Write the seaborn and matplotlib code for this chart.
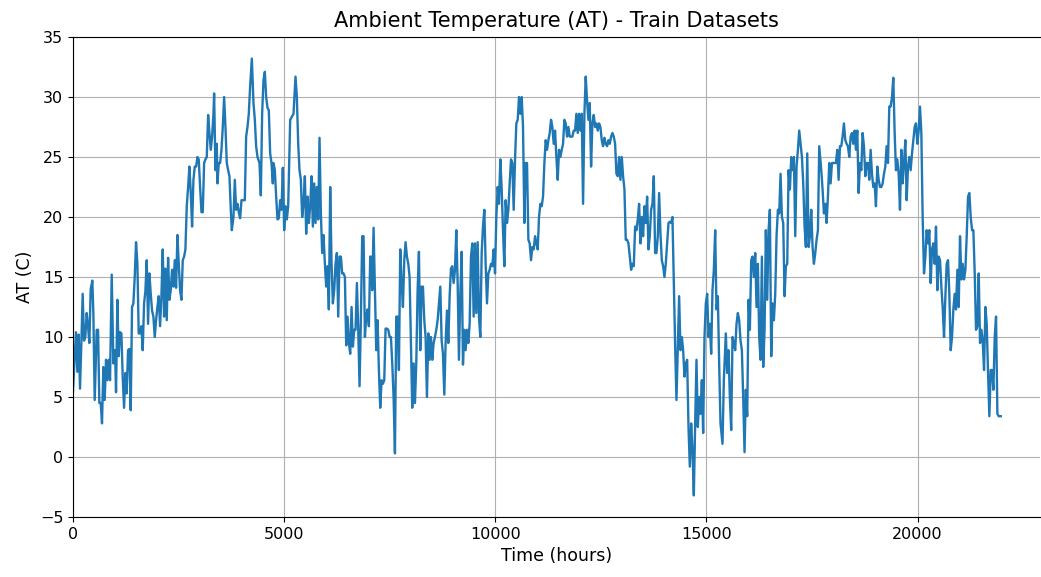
import matplotlib
matplotlib.use("Agg")
import matplotlib.pyplot as plt
import seaborn as sns
import pandas as pd

title = "Ambient Temperature (AT) - Train Datasets"
x_label = "Time (hours)"
y_label = "AT (C)"
x_ticks = [0, 5000, 10000, 15000, 20000]
y_ticks = [-5, 0, 5, 10, 15, 20, 25, 30, 35]

hours_1 = [0, 71, 103, 134, 166, 198, 229, 261, 292, 324, 356, 387, 419, 458, 482, 514, 561, 593, 624, 656,
           687, 719, 751, 782, 814, 845, 877, 917, 956, 996, 1019, 1051, 1082, 1114, 1146, 1177, 1209, 1240, 1272, 1304,
           1335, 1367, 1398, 1430, 1462, 1493, 1525, 1556, 1588, 1620, 1651, 1683, 1714, 1746, 1778, 1809, 1841, 1872, 1904, 1936,
           1967, 1999, 2030, 2062, 2094, 2125, 2157, 2188, 2220, 2252, 2283, 2315, 2346, 2378, 2410, 2441, 2473, 2504, 2536, 2568,
           2599, 2631, 2662, 2694, 2726, 2757, 2789, 2820, 2852, 2884, 2915, 2947, 2978, 3010, 3042, 3073, 3105, 3136, 3168, 3200,
           3231, 3263, 3294, 3326, 3342, 3373, 3405]
temps_1 = [5.5, 10.4, 7.1, 10.2, 5.7, 9.5, 13.6, 9.7, 10.0, 12.0, 10.9, 9.5, 14.0, 14.7, 12.0, 4.75, 10.6, 10.6, 4.5, 4.5,
           2.8, 7.5, 4.75, 8.1, 6.4, 8.1, 6.4, 15.2, 7.8, 8.9, 5.4, 13.1, 8.4, 10.4, 10.3, 6.7, 4.1, 7.0, 5.3, 8.9,
           9.0, 3.9, 12.5, 12.8, 15.0, 17.9, 16.1, 10.3, 10.3, 10.9, 8.9, 12.8, 13.8, 16.4, 11.1, 15.3, 13.6, 12.2, 11.7, 10.0,
           11.4, 12.5, 13.4, 10.9, 13.4, 17.3, 11.7, 15.7, 11.4, 16.6, 13.1, 13.9, 15.6, 14.2, 16.4, 14.1, 18.5, 16.1, 13.9, 13.1,
           16.4, 16.7, 17.3, 20.9, 22.5, 24.2, 22.0, 19.2, 23.1, 24.2, 24.2, 25.0, 24.8, 22.5, 20.4, 20.4, 24.5, 24.8, 25.0, 28.5,
           27.0, 25.6, 26.7, 28.6, 30.3, 23.9, 26.1]

hours_2 = [3421, 3452, 3484, 3516, 3547, 3579, 3610, 3642, 3674, 3705, 3737, 3761, 3800, 3832, 3863, 3895, 3926, 3958, 3990, 4021,
           4069, 4100, 4132, 4163, 4195, 4235, 4274, 4306, 4337, 4369, 4416, 4448, 4479, 4511, 4543, 4574, 4606, 4637, 4669, 4701,
           4732, 4748, 4780, 4811, 4843, 4874, 4906, 4938, 4969, 5001, 5032, 5064, 5096, 5143, 5190, 5222, 5269, 5301, 5333, 5364,
           5396, 5427, 5459, 5491, 5522, 5554, 5585, 5617, 5649, 5680, 5712, 5743, 5775, 5807, 5838, 5870, 5901, 5933, 5965, 5996,
           6028, 6059, 6091, 6123, 6154, 6186, 6217, 6249, 6281, 6312, 6344, 6375, 6407, 6439, 6470, 6502, 6533, 6565, 6597, 6628,
           6660, 6691, 6723, 6755, 6786, 6818, 6849, 6881, 6913, 6944, 6976, 7007, 7039]
temps_2 = [22.8, 24.5, 24.5, 25.6, 27.5, 30.0, 27.5, 24.5, 23.9, 23.4, 20.6, 18.9, 20.0, 23.1, 20.6, 21.1, 20.4, 19.9, 21.4, 21.4,
           21.4, 26.7, 27.5, 28.6, 30.9, 33.2, 29.5, 28.1, 25.9, 25.0, 24.5, 21.8, 28.6, 31.4, 32.1, 30.0, 29.1, 28.9, 25.3, 24.5,
           22.8, 24.5, 23.9, 21.7, 19.8, 19.9, 21.4, 20.6, 24.1, 18.9, 20.9, 19.8, 20.9, 28.1, 28.4, 28.6, 31.7, 30.0, 26.1, 23.9,
           23.1, 20.0, 21.1, 23.4, 18.6, 21.7, 19.5, 20.9, 23.4, 19.2, 22.8, 19.5, 22.5, 19.8, 26.6, 20.3, 17.0, 18.5, 16.1, 14.2,
           15.9, 12.3, 22.5, 16.1, 12.8, 13.9, 16.1, 17.0, 11.7, 16.7, 16.7, 15.3, 15.3, 15.0, 9.3, 11.7, 9.5, 8.6, 12.5, 9.2,
           10.6, 10.6, 14.5, 10.6, 5.9, 11.7, 18.4, 18.4, 10.0, 11.7, 12.3, 10.9, 16.7]

hours_3 = [7055, 7086, 7118, 7150, 7181, 7213, 7244, 7276, 7308, 7339, 7371, 7402, 7434, 7466, 7497, 7529, 7560, 7592, 7624, 7655,
           7687, 7718, 7750, 7782, 7813, 7845, 7876, 7908, 7940, 7971, 8003, 8034, 8066, 8098, 8129, 8161, 8192, 8224, 8256, 8287,
           8319, 8350, 8382, 8414, 8445, 8477, 8508, 8540, 8572, 8603, 8635, 8666, 8698, 8730, 8761, 8793, 8824, 8856, 8888, 8919,
           8951, 8982, 9014, 9046, 9077, 9109, 9140, 9172, 9204, 9235, 9267, 9298, 9330, 9362, 9393, 9425, 9456, 9488, 9520, 9551,
           9583, 9614, 9646, 9678, 9709, 9741, 9772, 9804, 9836, 9867, 9899, 9930, 9962, 9994, 10025, 10057, 10088, 10120, 10152, 10183,
           10215, 10246, 10278, 10310, 10341, 10373, 10404, 10436, 10468, 10499, 10531, 10562, 10594]
temps_3 = [16.7, 13.9, 19.1, 13.9, 8.9, 11.4, 7.25, 4.1, 6.4, 6.1, 6.4, 10.7, 10.7, 10.6, 10.0, 10.0, 7.8, 5.0, 0.3, 11.7,
           11.7, 7.25, 17.3, 14.5, 12.5, 16.4, 17.9, 16.7, 16.1, 15.0, 9.5, 4.1, 7.8, 4.5, 7.8, 13.9, 17.1, 8.9, 14.2, 14.2,
           11.4, 10.0, 5.0, 10.3, 8.1, 10.0, 8.1, 9.5, 10.0, 10.6, 11.4, 12.8, 14.2, 9.7, 8.6, 5.2, 9.5, 12.2, 9.5, 13.4,
           15.7, 15.9, 14.5, 15.6, 18.9, 14.5, 8.1, 13.6, 17.1, 7.7, 10.6, 8.9, 10.6, 9.5, 11.1, 16.7, 17.8, 11.7, 17.8, 12.0,
           17.9, 11.7, 10.0, 17.0, 19.2, 20.6, 16.1, 12.8, 15.3, 15.6, 16.1, 15.9, 17.3, 15.3, 20.0, 22.5, 21.1, 24.8, 22.3, 18.9,
           15.9, 21.4, 19.5, 20.6, 22.8, 24.8, 24.5, 20.6, 24.8, 27.8, 28.1, 30.0, 28.6]

hours_4 = [10626, 10657, 10689, 10720, 10752, 10784, 10815, 10847, 10878, 10910, 10942, 10973, 11005, 11036, 11068, 11100, 11131, 11163, 11194, 11226,
           11258, 11289, 11321, 11352, 11384, 11416, 11447, 11479, 11510, 11542, 11574, 11605, 11637, 11668, 11700, 11732, 11763, 11795, 11826, 11858,
           11890, 11921, 11953, 11984, 12016, 12048, 12079, 12111, 12142, 12174, 12206, 12237, 12269, 12300, 12332, 12364, 12395, 12427, 12458, 12490,
           12522, 12553, 12585, 12616, 12648, 12680, 12711, 12743, 12774, 12806, 12838, 12869, 12901, 12932, 12964, 12996, 13027, 13059, 13090, 13122,
           13154, 13185, 13217, 13248, 13280, 13312, 13343, 13375, 13406, 13438, 13470, 13501, 13533, 13564, 13596, 13628, 13659, 13691, 13722, 13754,
           13786, 13817, 13849, 13880, 13912, 13944, 13975, 14007, 14038, 14070, 14102, 14133]
temps_4 = [30.0, 27.5, 19.5, 24.5, 24.5, 18.1, 17.8, 16.4, 17.5, 17.3, 18.4, 17.8, 17.3, 20.0, 21.1, 20.9, 21.7, 24.5, 26.4, 25.6,
           26.4, 27.0, 28.1, 27.5, 26.1, 27.2, 25.0, 23.1, 25.6, 25.0, 25.6, 26.1, 28.1, 27.8, 26.7, 27.5, 26.7, 26.7, 26.7, 27.2,
           27.2, 28.6, 27.0, 28.6, 27.2, 28.6, 21.1, 28.6, 31.7, 29.7, 28.1, 29.5, 24.2, 27.8, 28.5, 27.5, 27.8, 27.2, 27.8, 27.5,
           26.4, 25.9, 26.6, 26.1, 25.9, 26.4, 26.1, 26.7, 27.0, 26.7, 26.1, 23.6, 23.4, 25.0, 23.1, 25.0, 23.4, 22.3, 18.1, 18.1,
           17.8, 16.7, 15.6, 16.1, 15.9, 19.2, 18.9, 19.8, 21.1, 17.8, 20.0, 18.4, 20.9, 19.5, 21.7, 17.3, 18.4, 20.6, 21.1, 23.4,
           17.0, 17.0, 18.4, 22.0, 18.6, 16.4, 15.9, 15.0, 16.1, 17.8, 19.5, 19.6]

hours_5 = [14165, 14196, 14228, 14260, 14291, 14323, 14354, 14386, 14418, 14449, 14481, 14512, 14544, 14576, 14607, 14639, 14670, 14702, 14734, 14765,
           14797, 14828, 14860, 14892, 14923, 14955, 14986, 15018, 15050, 15081, 15113, 15144, 15176, 15208, 15239, 15271, 15302, 15334, 15381, 15413,
           15460, 15492, 15524, 15555, 15587, 15618, 15650, 15682, 15713, 15745, 15776, 15808, 15840, 15871, 15903, 15934, 15966, 15998, 16029, 16061,
           16092, 16124, 16156, 16187, 16219, 16250, 16282, 16314, 16345, 16377, 16408, 16440, 16472, 16503, 16535, 16566, 16598, 16630, 16661, 16693,
           16724, 16756, 16788, 16819, 16851, 16882, 16914, 16946, 16977, 17009, 17040, 17072, 17104, 17135, 17167, 17198, 17230, 17262, 17293, 17325,
           17356, 17388, 17420, 17451, 17483, 17514, 17546, 17578, 17609, 17641, 17672]
temps_5 = [19.5, 20.0, 14.5, 9.2, 4.75, 9.2, 13.4, 8.9, 10.0, 8.9, 6.7, 7.8, 8.1, 2.5, -0.8, 2.8, 0.6, -3.2, 2.8, 8.1,
           2.5, 5.0, 3.6, 6.4, 2.0, 10.0, 12.8, 13.6, 10.0, 11.1, 8.6, 13.9, 15.6, 18.9, 12.3, 13.4, 7.8, 2.8, 1.1, 6.4,
           10.3, 7.0, 8.9, 5.0, 2.25, 10.0, 9.5, 8.9, 11.1, 12.0, 11.4, 9.7, 8.9, 5.0, 0.4, 5.6, 3.4, 13.1, 10.6, 16.4,
           16.7, 15.0, 17.0, 12.5, 16.1, 10.0, 8.1, 16.7, 7.5, 10.6, 18.9, 13.1, 18.9, 20.6, 8.4, 12.8, 11.4, 13.6, 18.4, 20.6,
           20.3, 23.6, 20.0, 19.5, 13.4, 15.9, 16.1, 23.9, 22.3, 25.0, 23.9, 25.0, 18.4, 24.2, 25.6, 27.2, 26.1, 25.0, 22.8, 19.2,
           17.5, 25.3, 17.5, 18.4, 20.6, 17.5, 16.1, 17.0, 18.1, 18.9, 25.9]

hours_6 = [17720, 17751, 17783, 17815, 17846, 17878, 17909, 17941, 17973, 18004, 18036, 18067, 18099, 18131, 18162, 18194, 18225, 18257, 18289, 18320,
           18352, 18383, 18415, 18447, 18478, 18510, 18541, 18573, 18605, 18636, 18668, 18699, 18731, 18763, 18794, 18826, 18857, 18889, 18921, 18952,
           18984, 19015, 19047, 19079, 19110, 19142, 19173, 19205, 19237, 19268, 19300, 19331, 19363, 19395, 19426, 19458, 19489, 19521, 19553, 19584,
           19616, 19647, 19679, 19711, 19742, 19774, 19805, 19837, 19869, 19900, 19932, 19963, 19995, 20027, 20058, 20090, 20121, 20153, 20185, 20216,
           20248, 20279, 20311, 20343, 20374, 20406, 20437, 20469, 20501, 20532, 20564, 20595, 20627, 20659, 20690, 20722, 20753, 20785, 20817, 20848,
           20880, 20911, 20943, 20975, 21006, 21038, 21069, 21101, 21133, 21164, 21196, 21227]
temps_6 = [23.9, 22.3, 20.3, 21.1, 19.5, 21.7, 24.5, 22.8, 24.5, 24.5, 24.5, 24.5, 25.6, 23.1, 25.9, 25.9, 26.7, 27.8, 26.4, 26.1,
           25.9, 25.0, 26.7, 27.0, 26.1, 27.2, 25.6, 27.2, 22.0, 24.5, 23.9, 27.0, 25.9, 23.4, 24.5, 24.5, 23.1, 25.6, 23.6, 22.5,
           22.8, 20.9, 24.2, 23.1, 22.5, 22.5, 22.8, 23.6, 24.2, 25.9, 24.5, 29.2, 29.2, 30.0, 31.6, 27.0, 23.9, 24.8, 23.6, 20.6,
           25.6, 22.8, 24.5, 26.4, 21.4, 24.2, 25.0, 23.9, 25.3, 26.4, 27.5, 27.8, 26.1, 27.2, 29.2, 27.0, 20.0, 15.3, 16.7, 18.9,
           17.8, 18.9, 14.5, 17.3, 17.8, 16.1, 19.2, 13.9, 16.7, 16.4, 14.2, 12.5, 10.0, 13.4, 16.1, 16.4, 13.6, 8.9, 10.0, 12.3,
           13.6, 12.3, 15.6, 12.5, 18.4, 14.8, 16.1, 14.8, 15.6, 18.4, 21.7, 22.0]

hours_7 = [21259, 21291, 21322, 21354, 21385, 21417, 21449, 21480, 21512, 21543, 21575, 21607, 21638, 21670, 21701, 21733, 21765, 21796, 21828, 21859,
           21891, 21922, 21970]
temps_7 = [20.0, 18.9, 18.9, 15.3, 10.6, 10.9, 15.3, 9.5, 10.6, 9.7, 7.25, 12.5, 11.1, 7.0, 3.4, 7.25, 7.25, 5.6, 10.0, 11.7,
           3.6, 3.4, 3.4]

hours = hours_1 + hours_2 + hours_3 + hours_4 + hours_5 + hours_6 + hours_7
temps = temps_1 + temps_2 + temps_3 + temps_4 + temps_5 + temps_6 + temps_7
df = pd.DataFrame({"hours": hours, "AT": temps})

W, H = 1041, 577
fig = plt.figure(figsize=(W / 100, H / 100), dpi=100)
ax = fig.add_axes([73 / W, 1 - 517 / H, (1040 - 73) / W, (517 - 37) / H])

sns.lineplot(data=df, x="hours", y="AT", ax=ax, color="#1f77b4", linewidth=1.7,
             sort=False, estimator=None)

ax.set_xlim(0, 22900)
ax.set_ylim(-5, 35)
ax.set_xticks(x_ticks)
ax.set_yticks(y_ticks)
ax.grid(True, color="#b0b0b0", linewidth=0.8)
ax.set_axisbelow(True)
ax.spines["right"].set_visible(False)
ax.set_title(title, fontsize=15, pad=7)
ax.set_xlabel(x_label, fontsize=12.5, labelpad=4)
ax.set_ylabel(y_label, fontsize=12.5, labelpad=4)
ax.tick_params(labelsize=11.5)

fig.savefig("out.png", dpi=100)
